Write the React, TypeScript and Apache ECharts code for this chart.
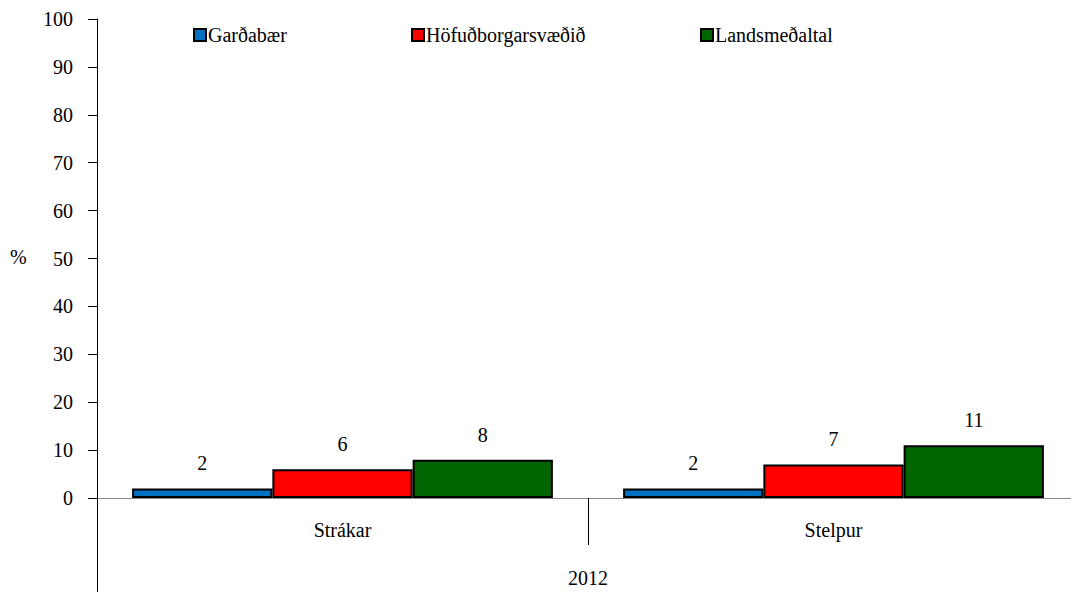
import React, { useEffect, useRef } from "react";
import * as echarts from "echarts";

const groups = ["Strákar", "Stelpur"];
const yearLabels = ["2012"];
const seriesNames = ["Garðabær", "Höfuðborgarsvæðið", "Landsmeðaltal"];
const gardabaer = [2, 2];
const hofudborgarsvaedid = [6, 7];
const landsmedaltal = [8, 11];
const colors = ["#0070C0", "#FF0000", "#006400"];

const FONT = "Liberation Serif, Times New Roman, serif";

export default function App() {
  const ref = useRef<HTMLDivElement>(null);

  useEffect(() => {
    if (!ref.current) return;
    const chart = echarts.init(ref.current, undefined, { renderer: "svg" });
    const values = [gardabaer, hofudborgarsvaedid, landsmedaltal];
    const legendLefts = [193, 411, 700];

    chart.setOption({
      animation: false,
      textStyle: { fontFamily: FONT, color: "#000" },
      grid: {
        left: 97,
        width: 982,
        top: 19,
        bottom: 94,
        containLabel: false,
        outerBoundsMode: "none",
      },
      legend: seriesNames.map((n, i) => ({
        data: [n],
        left: legendLefts[i],
        top: 25,
        padding: 0,
        itemWidth: 12,
        itemHeight: 12,
        itemGap: 0,
        icon: "rect",
        textStyle: { fontFamily: FONT, fontSize: 20, color: "#000", padding: [0, 0, 0, -3] },
      })),
      xAxis: [
        {
          type: "category",
          data: groups,
          position: "bottom",
          axisLine: { show: true, lineStyle: { color: "#888", width: 1 } },
          axisTick: { show: true, length: 47, interval: 0, lineStyle: { color: "#000" } },
          axisLabel: { fontFamily: FONT, fontSize: 20, color: "#000", margin: 22 },
        },
        {
          type: "category",
          data: yearLabels,
          position: "bottom",
          axisLine: { show: false },
          axisTick: { show: true, length: 94, interval: 0, lineStyle: { color: "#000" } },
          axisLabel: { fontFamily: FONT, fontSize: 20, color: "#000", margin: 70 },
        },
      ],
      yAxis: {
        type: "value",
        min: 0,
        max: 100,
        interval: 10,
        splitLine: { show: false },
        axisLine: { show: true, lineStyle: { color: "#000" } },
        axisTick: { show: true, length: 9, lineStyle: { color: "#000" } },
        axisLabel: { fontFamily: FONT, fontSize: 20, color: "#000", margin: 24 },
      },
      graphic: [
        {
          type: "text",
          left: 10,
          top: 247,
          style: { text: "%", fontFamily: FONT, fontSize: 20, fill: "#000" },
        },
      ],
      series: seriesNames.map((n, i) => ({
        name: n,
        type: "bar",
        xAxisIndex: 0,
        data: values[i],
        barGap: "0%",
        barCategoryGap: "14.3%",
        itemStyle: { color: colors[i], borderColor: "#000", borderWidth: 2 },
        label: {
          show: true,
          position: "top",
          distance: 15,
          fontFamily: FONT,
          fontSize: 20,
          color: "#000",
        },
      })),
    });

    return () => chart.dispose();
  }, []);

  return (
    <div
      ref={ref}
      style={{ position: "fixed", left: 0, top: 0, width: 1071, height: 592, background: "#fff" }}
    />
  );
}
